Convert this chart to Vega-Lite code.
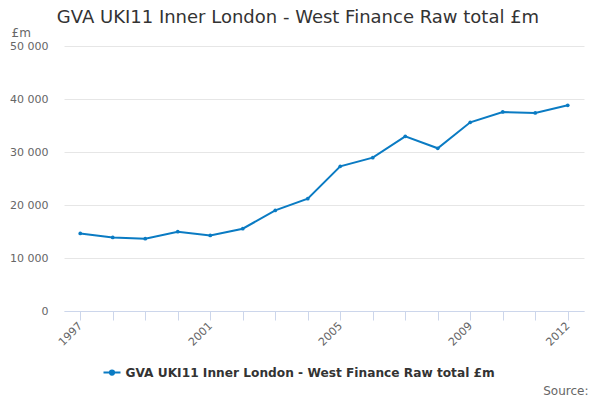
{
  "$schema": "https://vega.github.io/schema/vega-lite/v6.json",
  "width": 520,
  "height": 265,
  "autosize": "none",
  "padding": {"left": 64, "top": 46, "right": 16, "bottom": 89},
  "background": "white",
  "title": {
    "text": "GVA UKI11 Inner London - West Finance Raw total £m",
    "font": "DejaVu Sans",
    "fontSize": 18,
    "fontWeight": "normal",
    "color": "#333333",
    "anchor": "middle",
    "frame": "group",
    "dx": -26,
    "offset": -1
  },
  "config": {
    "font": "DejaVu Sans",
    "view": {"stroke": null}
  },
  "data": {
    "values": [
      {"year": 1997, "value": 14640, "series": "GVA UKI11 Inner London - West Finance Raw total £m"},
      {"year": 1998, "value": 13890, "series": "GVA UKI11 Inner London - West Finance Raw total £m"},
      {"year": 1999, "value": 13640, "series": "GVA UKI11 Inner London - West Finance Raw total £m"},
      {"year": 2000, "value": 14960, "series": "GVA UKI11 Inner London - West Finance Raw total £m"},
      {"year": 2001, "value": 14260, "series": "GVA UKI11 Inner London - West Finance Raw total £m"},
      {"year": 2002, "value": 15530, "series": "GVA UKI11 Inner London - West Finance Raw total £m"},
      {"year": 2003, "value": 18980, "series": "GVA UKI11 Inner London - West Finance Raw total £m"},
      {"year": 2004, "value": 21190, "series": "GVA UKI11 Inner London - West Finance Raw total £m"},
      {"year": 2005, "value": 27300, "series": "GVA UKI11 Inner London - West Finance Raw total £m"},
      {"year": 2006, "value": 28930, "series": "GVA UKI11 Inner London - West Finance Raw total £m"},
      {"year": 2007, "value": 32960, "series": "GVA UKI11 Inner London - West Finance Raw total £m"},
      {"year": 2008, "value": 30700, "series": "GVA UKI11 Inner London - West Finance Raw total £m"},
      {"year": 2009, "value": 35600, "series": "GVA UKI11 Inner London - West Finance Raw total £m"},
      {"year": 2010, "value": 37550, "series": "GVA UKI11 Inner London - West Finance Raw total £m"},
      {"year": 2011, "value": 37360, "series": "GVA UKI11 Inner London - West Finance Raw total £m"},
      {"year": 2012, "value": 38810, "series": "GVA UKI11 Inner London - West Finance Raw total £m"}
    ]
  },
  "mark": {
    "type": "line",
    "strokeWidth": 2,
    "point": {"filled": true, "size": 14}
  },
  "encoding": {
    "x": {
      "field": "year",
      "type": "quantitative",
      "scale": {"domain": [1996.5, 2012.5], "nice": false, "zero": false},
      "axis": {
        "values": [1997, 1998, 1999, 2000, 2001, 2002, 2003, 2004, 2005, 2006, 2007, 2008, 2009, 2010, 2011, 2012],
        "format": "d",
        "labelExpr": "datum.value == 1997 || datum.value == 2001 || datum.value == 2005 || datum.value == 2009 || datum.value == 2012 ? datum.label : ''",
        "labelOverlap": false,
        "labelAngle": -45,
        "labelAlign": "right",
        "labelBaseline": "middle",
        "labelFontSize": 11,
        "labelColor": "#666666",
        "labelPadding": 4,
        "grid": false,
        "domainColor": "#ccd6eb",
        "tickColor": "#ccd6eb",
        "tickSize": 9,
        "title": "Source:",
        "titleFontSize": 12,
        "titleFontWeight": "normal",
        "titleColor": "#666666",
        "titleAnchor": "end",
        "titleAlign": "right",
        "titleBaseline": "alphabetic",
        "titleX": 524,
        "titleY": 83
      }
    },
    "y": {
      "field": "value",
      "type": "quantitative",
      "scale": {"domain": [0, 50000], "nice": false},
      "axis": {
        "values": [0, 10000, 20000, 30000, 40000, 50000],
        "labelExpr": "replace(format(datum.value, ','), ',', ' ')",
        "labelFontSize": 11,
        "labelColor": "#666666",
        "labelPadding": 16,
        "domain": false,
        "ticks": false,
        "gridColor": "#e6e6e6",
        "title": "£m",
        "titleAngle": 0,
        "titleAlign": "left",
        "titleBaseline": "alphabetic",
        "titleX": -53,
        "titleY": -10,
        "titleFontSize": 12,
        "titleFontWeight": "normal",
        "titleColor": "#666666"
      }
    },
    "color": {
      "field": "series",
      "type": "nominal",
      "scale": {"range": ["#0a7bc3"]},
      "legend": {
        "title": null,
        "orient": "none",
        "legendX": 38.5,
        "legendY": 317,
        "padding": 0,
        "labelFontSize": 12.2,
        "labelFontWeight": "bold",
        "labelColor": "#333333",
        "labelOffset": 4,
        "labelLimit": 600,
        "symbolType": "M-1,0L1,0M0.25,0A0.25,0.25,0,1,1,-0.25,0A0.25,0.25,0,1,1,0.25,0Z",
        "symbolSize": 289,
        "symbolStrokeWidth": 2,
        "symbolFillColor": "#0a7bc3"
      }
    }
  }
}
